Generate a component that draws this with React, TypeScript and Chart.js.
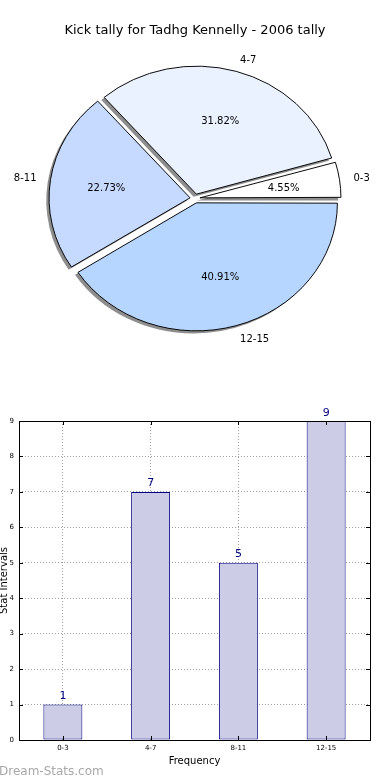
import React, { useEffect, useRef } from 'react';
import { Chart, registerables } from 'chart.js';

Chart.register(...registerables);

// ---- data ----
const CATEGORIES = ['0-3', '4-7', '8-11', '12-15'];
const TALLY = [1, 7, 5, 9];
const SLICE_COLORS = ['#ffffff', '#eaf2ff', '#c6daff', '#b6d6ff'];
const Y_MIN = 0;
const Y_MAX = 9;
const PIE_TITLE = 'Kick tally for Tadhg Kennelly - 2006 tally';
const X_TITLE = 'Frequency';
const Y_TITLE = 'Stat Intervals';
const WATERMARK = 'Dream-Stats.com';

// ---- styles ----
const FONT = '"DejaVu Sans", "Noto Sans", sans-serif';
const PIE_RADIUS = 141;
const Y_SQUASH = 128 / 141;
const EXPLODE = 5;
const SHADOW_DX = -2.8;
const SHADOW_DY = 2.6;
const SHADOW_COLOR = '#8e8e8e';
const BAR_FILL = '#ccccE6';
const BAR_EDGE = '#000080';
const GRID_COLOR = '#a0a0a0';

function PieChart() {
  const ref = useRef<HTMLCanvasElement>(null);
  useEffect(() => {
    const order = CATEGORIES.map((_, i) => i).reverse();
    const labels = order.map((i) => CATEGORIES[i]);
    const data = order.map((i) => TALLY[i]);
    const colors = order.map((i) => SLICE_COLORS[i]);
    const total = data.reduce((a, b) => a + b, 0);
    let pushed = false;

    const applySquash = (ctx: CanvasRenderingContext2D, cx: number, cy: number) => {
      ctx.translate(cx, cy);
      ctx.scale(1, Y_SQUASH);
      ctx.translate(-cx, -cy);
    };

    const pieDecor = {
      id: 'pieDecor',
      afterUpdate(chart: any) {
        const arcs = chart.getDatasetMeta(0).data as any[];
        arcs.forEach((a) => {
          const fix = 1 - Math.sin(Math.min(Math.PI, a.circumference || 0));
          a.outerRadius = PIE_RADIUS - EXPLODE * fix;
        });
      },
      beforeDatasetsDraw(chart: any) {
        const arcs = chart.getDatasetMeta(0).data as any[];
        if (!arcs.length) return;
        const ctx: CanvasRenderingContext2D = chart.ctx;
        const cx = arcs[0].x;
        const cy = arcs[0].y;
        // shadow pass
        ctx.save();
        ctx.translate(SHADOW_DX, SHADOW_DY);
        applySquash(ctx, cx, cy);
        ctx.fillStyle = SHADOW_COLOR;
        arcs.forEach((a) => {
          const mid = (a.startAngle + a.endAngle) / 2;
          const ox = cx + Math.cos(mid) * EXPLODE;
          const oy = cy + Math.sin(mid) * EXPLODE;
          ctx.beginPath();
          ctx.moveTo(ox, oy);
          ctx.arc(ox, oy, PIE_RADIUS, a.startAngle, a.endAngle);
          ctx.closePath();
          ctx.fill();
        });
        ctx.restore();
        ctx.save();
        applySquash(ctx, cx, cy);
        pushed = true;
      },
      afterDatasetsDraw(chart: any) {
        const ctx: CanvasRenderingContext2D = chart.ctx;
        if (pushed) {
          ctx.restore();
          pushed = false;
        }
        const arcs = chart.getDatasetMeta(0).data as any[];
        if (!arcs.length) return;
        const cx = arcs[0].x;
        const cy = arcs[0].y;
        ctx.save();
        ctx.fillStyle = '#000';
        ctx.font = `10px ${FONT}`;
        ctx.textBaseline = 'middle';
        arcs.forEach((a, i) => {
          const mid = (a.startAngle + a.endAngle) / 2;
          const c = Math.cos(mid);
          const s = Math.sin(mid);
          // outer label
          const rl = PIE_RADIUS * 1.1 + EXPLODE;
          ctx.textAlign = c > 0 ? 'left' : 'right';
          ctx.fillText(labels[i], cx + rl * c, cy + rl * s * Y_SQUASH + 1);
          // percentage
          const rp = PIE_RADIUS * 0.6 + EXPLODE;
          ctx.textAlign = 'center';
          const pct = ((data[i] / total) * 100).toFixed(2) + '%';
          ctx.fillText(pct, cx + rp * c, cy + rp * s * Y_SQUASH + 1);
        });
        ctx.restore();
      },
    };

    const chart = new Chart(ref.current as HTMLCanvasElement, {
      type: 'pie',
      data: {
        labels,
        datasets: [
          {
            data,
            backgroundColor: colors,
            borderColor: '#000',
            borderWidth: 1,
            offset: EXPLODE * 4,
            hoverOffset: 0,
            clip: false as any,
          } as any,
        ],
      },
      options: {
        responsive: false,
        animation: false,
        devicePixelRatio: 1,
        events: [],
        rotation: 90,
        radius: PIE_RADIUS,
        layout: { padding: { top: 0, bottom: 30.6, left: 0, right: 0 } },
        plugins: {
          legend: { display: false },
          tooltip: { enabled: false },
          title: {
            display: true,
            text: PIE_TITLE,
            color: '#000',
            font: { family: FONT, size: 13, weight: 'normal' as any, lineHeight: 1.2 },
            padding: { top: 23, bottom: 9 },
          },
        },
      } as any,
      plugins: [pieDecor as any],
    });
    return () => chart.destroy();
  }, []);
  return (
    <canvas
      ref={ref}
      width={390}
      height={380}
      style={{ position: 'absolute', left: 0, top: 0, width: 390, height: 380 }}
    />
  );
}

function BarChart() {
  const ref = useRef<HTMLCanvasElement>(null);
  useEffect(() => {
    const barDecor = {
      id: 'barDecor',
      afterDatasetsDraw(chart: any) {
        const ctx: CanvasRenderingContext2D = chart.ctx;
        const bars = chart.getDatasetMeta(0).data as any[];
        ctx.save();
        ctx.fillStyle = BAR_EDGE;
        ctx.font = `11px ${FONT}`;
        ctx.textAlign = 'center';
        ctx.textBaseline = 'alphabetic';
        bars.forEach((b, i) => {
          ctx.fillText(String(TALLY[i]), b.x, b.y - 5.5);
        });
        ctx.restore();
      },
      afterDraw(chart: any) {
        const ctx: CanvasRenderingContext2D = chart.ctx;
        const { left, right, top, bottom } = chart.chartArea;
        const xs = chart.scales.x;
        const ys = chart.scales.y;
        ctx.save();
        ctx.strokeStyle = '#000';
        ctx.lineWidth = 1;
        ctx.beginPath();
        for (let v = Y_MIN; v <= Y_MAX; v++) {
          const y = Math.round(ys.getPixelForValue(v)) + 0.5;
          ctx.moveTo(left, y);
          ctx.lineTo(left + 4, y);
          ctx.moveTo(right, y);
          ctx.lineTo(right - 4, y);
        }
        CATEGORIES.forEach((_, i) => {
          const x = Math.round(xs.getPixelForValue(i)) + 0.5;
          ctx.moveTo(x, bottom);
          ctx.lineTo(x, bottom - 4);
          ctx.moveTo(x, top);
          ctx.lineTo(x, top + 4);
        });
        ctx.stroke();
        ctx.strokeRect(Math.round(left) + 0.5, Math.round(top) + 0.5, Math.round(right - left), Math.round(bottom - top));
        ctx.restore();
      },
    };

    const chart = new Chart(ref.current as HTMLCanvasElement, {
      type: 'bar',
      data: {
        labels: CATEGORIES,
        datasets: [
          {
            data: TALLY,
            backgroundColor: BAR_FILL,
            borderColor: BAR_EDGE,
            borderWidth: 1,
            borderSkipped: false,
            barPercentage: 0.444,
            categoryPercentage: 1,
          },
        ],
      },
      options: {
        responsive: false,
        animation: false,
        devicePixelRatio: 1,
        events: [],
        layout: { padding: { top: 21, right: 20, bottom: 13, left: 0 } },
        plugins: { legend: { display: false }, tooltip: { enabled: false } },
        scales: {
          x: {
            type: 'category',
            offset: true,
            z: 1,
            grid: { offset: false, drawTicks: false, color: GRID_COLOR, lineWidth: 1 },
            border: { display: false, dash: [1, 2] },
            ticks: { color: '#000', font: { family: FONT, size: 7 }, padding: 4 },
            title: {
              display: true,
              text: X_TITLE,
              color: '#000',
              font: { family: FONT, size: 10 },
              padding: { top: 2, bottom: 0 },
            },
            afterFit: (s: any) => {
              s.height = 27;
            },
          },
          y: {
            min: Y_MIN,
            max: Y_MAX,
            grid: { drawTicks: false, color: GRID_COLOR, lineWidth: 1 },
            border: { display: false, dash: [1, 2] },
            ticks: { stepSize: 1, color: '#000', font: { family: FONT, size: 7 }, padding: 5 },
            title: {
              display: true,
              text: Y_TITLE,
              color: '#000',
              font: { family: FONT, size: 10 },
              padding: { top: -1.5, bottom: 0 },
            },
            afterFit: (s: any) => {
              s.width = 19;
            },
          },
        },
      } as any,
      plugins: [barDecor as any],
    });
    return () => chart.destroy();
  }, []);
  return (
    <canvas
      ref={ref}
      width={390}
      height={380}
      style={{ position: 'absolute', left: 0, top: 400, width: 390, height: 380 }}
    />
  );
}

export default function App() {
  return (
    <div
      style={{
        position: 'fixed',
        left: 0,
        top: 0,
        width: 390,
        height: 780,
        background: '#fff',
        overflow: 'hidden',
      }}
    >
      <PieChart />
      <BarChart />
      <div
        style={{
          position: 'absolute',
          left: -1,
          top: 764,
          fontFamily: FONT,
          fontSize: 12,
          color: '#a8a8a8',
          whiteSpace: 'nowrap',
          lineHeight: '14px',
        }}
      >
        {WATERMARK}
      </div>
    </div>
  );
}
